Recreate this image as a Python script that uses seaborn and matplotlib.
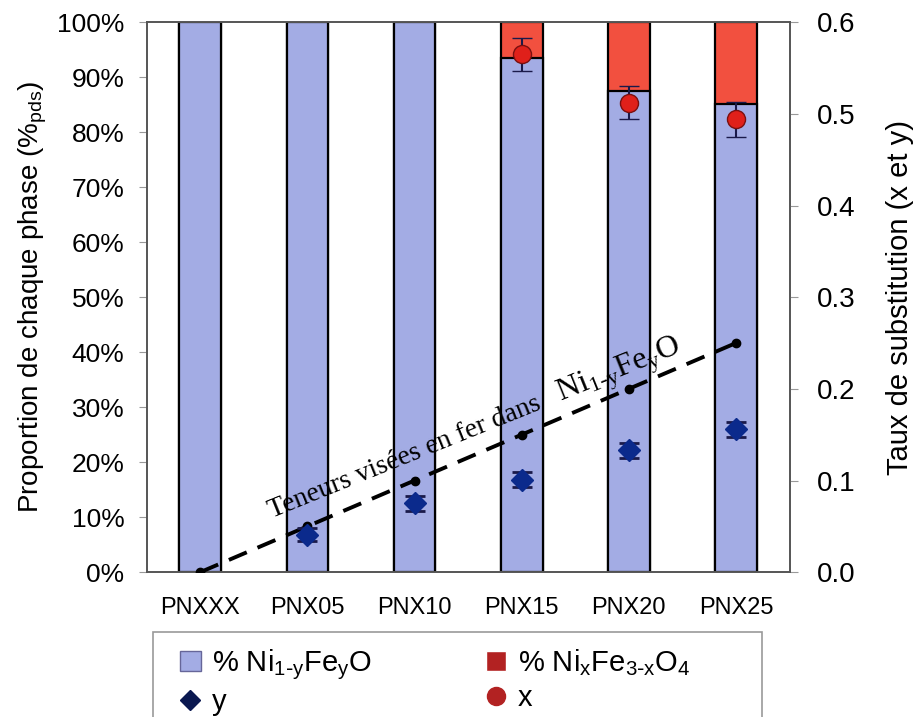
import numpy as np
import pandas as pd
import matplotlib
matplotlib.use("Agg")
import matplotlib.pyplot as plt
import seaborn as sns
from matplotlib.lines import Line2D
from matplotlib.patches import Patch, Rectangle

# data
samples = ["PNXXX", "PNX05", "PNX10", "PNX15", "PNX20", "PNX25"]
pct_rocksalt = [100, 100, 100, 93.5, 87.5, 85.2]      # % Ni1-yFeyO
pct_spinel = [0, 0, 0, 6.5, 12.5, 14.8]               # % NixFe3-xO4
y_meas = [np.nan, 0.041, 0.075, 0.101, 0.133, 0.156]
y_err = [np.nan, 0.007, 0.008, 0.008, 0.008, 0.008]
x_meas = [np.nan, np.nan, np.nan, 0.565, 0.512, 0.494]
x_err = [np.nan, np.nan, np.nan, 0.018, 0.018, 0.019]
y_target = [0.0, 0.05, 0.10, 0.15, 0.20, 0.25]

blue = "#A3ACE4"
red = "#F2503F"
navy = "#0B2A8C"

sns.set_style("white")
plt.rcParams["font.family"] = ["Liberation Sans", "DejaVu Sans"]
plt.rcParams["mathtext.default"] = "regular"
plt.rcParams["text.color"] = "black"
plt.rcParams["xtick.color"] = "black"
plt.rcParams["ytick.color"] = "black"
plt.rcParams["axes.labelcolor"] = "black"

df = pd.DataFrame({"sample": samples, "rock": pct_rocksalt,
                   "total": np.array(pct_rocksalt) + np.array(pct_spinel)})

fig = plt.figure(figsize=(9.17, 7.17), dpi=100)
ax = fig.add_axes([0.160, 0.202, 0.701, 0.767])

sns.barplot(data=df, x="sample", y="total", color=red, width=0.39,
            edgecolor="black", linewidth=1.6, saturation=1, ax=ax)
sns.barplot(data=df, x="sample", y="rock", color=blue, width=0.39,
            edgecolor="black", linewidth=1.6, saturation=1, ax=ax)

ax.set_ylim(0, 100)
ax.set_xlim(-0.5, 5.5)
ax.set_yticks(np.arange(0, 101, 10))
ax.set_yticklabels([f"{v}%" for v in range(0, 101, 10)], fontsize=19)
ax.set_xlabel("")
ax.set_ylabel("Proportion de chaque phase (%$_{pds}$)", fontsize=20, labelpad=6)
ax.tick_params(axis="x", labelsize=17, length=0, pad=18)
ax.set_xticks(np.arange(-0.5, 6, 1), minor=True)
ax.tick_params(axis="x", which="minor", length=5, direction="out", color="#999999")
ax.tick_params(axis="y", length=6, direction="out", color="#999999", pad=10)
for s in ax.spines.values():
    s.set_color("#555555")
    s.set_linewidth(1.2)

ax2 = ax.twinx()
pos = np.arange(len(samples))
ax2.plot(pos, y_target, color="black", ls=(0, (5, 3)), lw=2.8, marker="o",
         ms=6, zorder=3)
ax2.errorbar(pos, y_meas, yerr=y_err, fmt="D", color=navy, ms=11,
             mec=navy, ecolor="#1a1a4a", capsize=7, elinewidth=1.5, capthick=2, zorder=4)
ax2.errorbar(pos, x_meas, yerr=x_err, fmt="o", color="#E0201A", ms=13,
             mec="#7a1010", mew=1, ecolor="#1a1a4a", capsize=7, elinewidth=1.5,
             capthick=2, zorder=4)
ax2.set_ylim(0, 0.6)
ax2.set_yticks(np.arange(0, 0.61, 0.1))
ax2.set_yticklabels([f"{v:.1f}" for v in np.arange(0, 0.61, 0.1)], fontsize=20)
ax2.tick_params(axis="y", length=6, direction="out", color="#999999", pad=14)
ax2.set_ylabel("Taux de substitution (x et y)", fontsize=21, labelpad=22)
for s in ax2.spines.values():
    s.set_color("#555555")
    s.set_linewidth(1.2)

# slanted note above the target line, in two pieces (formula drawn larger)
serif = ["Liberation Serif", "DejaVu Serif"]
ax2.text(0.666, 0.059, "Teneurs visées en fer dans", rotation=22,
         ha="left", va="baseline", fontsize=20, family=serif,
         rotation_mode="anchor")
ax2.text(3.36, 0.186, r"Ni$_{1\text{-}y}$Fe$_{y}$O", rotation=22,
         ha="left", va="baseline", fontsize=23, family=serif,
         rotation_mode="anchor")

# legend frame box (runs off the bottom edge like the original)
fig.patches.append(Rectangle((153 / 917, -0.02), (762 - 153) / 917, 0.02 + 85 / 717,
                             transform=fig.transFigure, facecolor="white",
                             edgecolor="#999999", lw=1.2, zorder=0))

handles = [Patch(facecolor=blue, edgecolor="#666699"),
           Line2D([], [], ls="", marker="D", color="#0a1850", ms=10),
           Patch(facecolor="#B22222"),
           Line2D([], [], ls="", marker="o", color="#B22222", ms=13)]
labels = [r"% Ni$_{1\text{-}y}$Fe$_{y}$O", "y",
          r"% Ni$_{x}$Fe$_{3\text{-}x}$O$_{4}$", "x"]
leg = fig.legend(handles, labels, ncol=2, loc="upper left",
                 bbox_to_anchor=(167 / 917, 1 - 634 / 717), borderaxespad=0,
                 fontsize=21, frameon=False, handlelength=0.7,
                 handleheight=0.7, handletextpad=0.4, labelspacing=0.2,
                 borderpad=0.45, columnspacing=3.9)

fig.savefig("out.png", dpi=100)
